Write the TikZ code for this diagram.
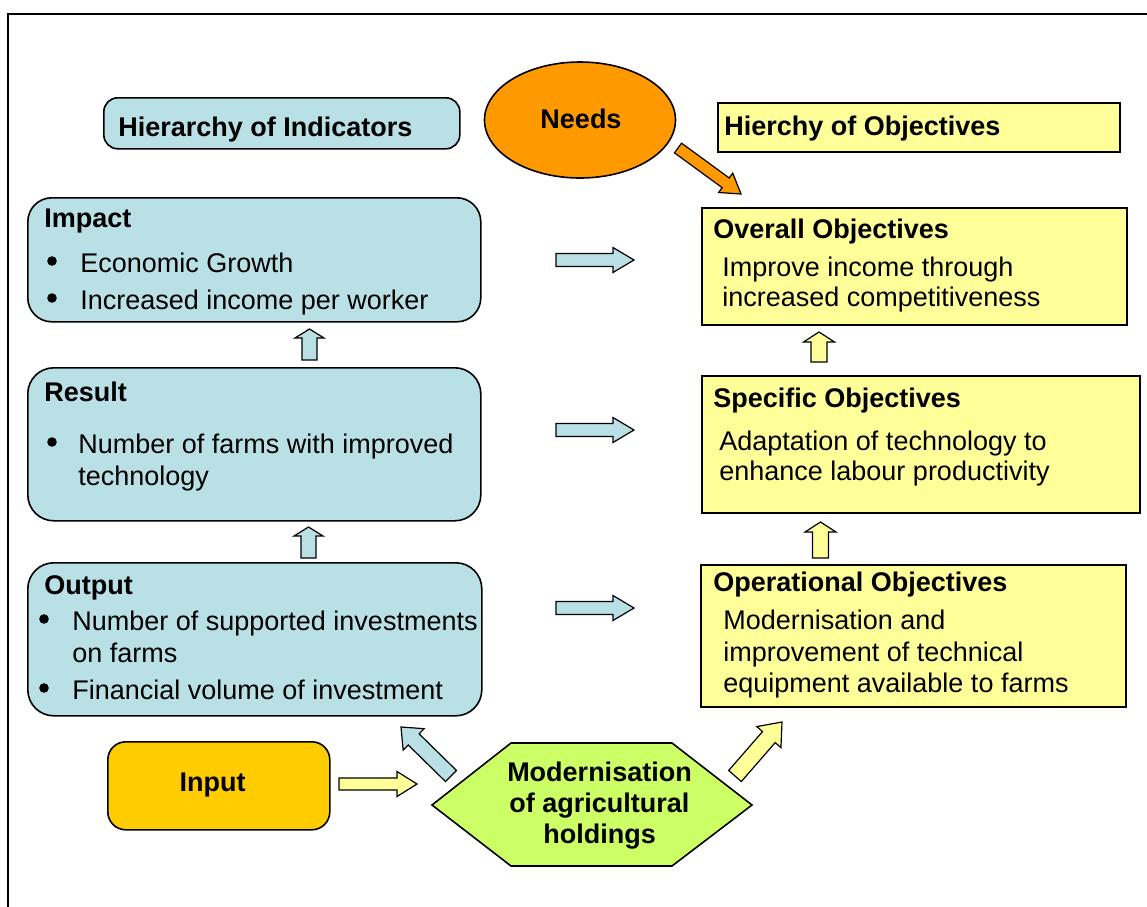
\documentclass[tikz,border=0pt]{standalone}
\usepackage{fontspec}
\setmainfont{Liberation Sans}
\usetikzlibrary{calc,shapes.geometric}
\definecolor{boxblue}{RGB}{185,224,228}
\definecolor{boxyellow}{RGB}{255,255,153}
\definecolor{needsorange}{RGB}{255,153,0}
\definecolor{inputgold}{RGB}{255,204,0}
\definecolor{hexgreen}{RGB}{204,255,102}
% #1 fill, #2 tail, #3 tip, #4 shaft half width, #5 head half width, #6 head length
\newcommand{\blockarr}[6]{%
  \coordinate (ba-h) at ($(#3)!#6!(#2)$);
  \filldraw[fill=#1, draw=black, line width=0.6pt, line join=miter]
    ($(#2)!#4!90:(#3)$) -- ($(ba-h)!#4!90:(#3)$) -- ($(ba-h)!#5!90:(#3)$) -- (#3)
    -- ($(ba-h)!#5!-90:(#3)$) -- ($(ba-h)!#4!-90:(#3)$) -- ($(#2)!#4!-90:(#3)$) -- cycle;
}
\begin{document}
\begin{tikzpicture}[x=0.5pt,y=-0.5pt,
  font=\fontsize{13.5}{15.5}\selectfont,
  txt/.style={inner sep=0pt, anchor=base west},
  btxt/.style={txt, font=\fontsize{13.5}{15.5}\selectfont\bfseries},
  ctxt/.style={inner sep=0pt, anchor=base, font=\fontsize{13.5}{15.5}\selectfont\bfseries},
  bul/.style={circle, fill=black, inner sep=0pt, minimum size=4.8pt},
  boxbase/.style={draw=black, line width=0.8pt, anchor=north west, inner sep=0pt},
  bluebox/.style={boxbase, fill=boxblue},
  yelbox/.style={boxbase, fill=boxyellow}]
\useasboundingbox (0,0) rectangle (1147,906);
\clip (0,0) rectangle (1147,906);
% frame
\draw[line width=1.1pt] (8,920) -- (8,14) -- (1160,14);

% headers
\node[bluebox, rounded corners=7pt, minimum width=178pt, minimum height=25.5pt] (hoi) at (103,97) {};
\node[btxt] (hoit) at (118,136) {Hierarchy of Indicators};
\node[draw=black, line width=0.8pt, fill=needsorange, ellipse, minimum width=95.5pt, minimum height=58pt, inner sep=0pt] (needs) at (580,120) {};
\node[ctxt] (needst) at (581,128) {Needs};
\node[yelbox, minimum width=201pt, minimum height=24.5pt] (hoo) at (717,102) {};
\node[btxt] (hoot) at (724,135) {Hierchy of Objectives};

% objectives (right)
\node[yelbox, minimum width=212.5pt, minimum height=58.5pt] (overall) at (701,207) {};
\node[btxt] (overallt) at (713,238) {Overall Objectives};
\node[txt] (overall1) at (722,276) {Improve income through};
\node[txt] (overall2) at (722,306) {increased competitiveness};

\node[yelbox, minimum width=219pt, minimum height=68.5pt] (specific) at (701,375) {};
\node[btxt] (specifict) at (713,407) {Specific Objectives};
\node[txt] (specific1) at (719,450) {Adaptation of technology to};
\node[txt] (specific2) at (719,480) {enhance labour productivity};

\node[yelbox, minimum width=212.5pt, minimum height=71pt] (oper) at (700,564) {};
\node[btxt] (opert) at (713,591) {Operational Objectives};
\node[txt] (oper1) at (723,629) {Modernisation and};
\node[txt] (oper2) at (723,661) {improvement of technical};
\node[txt] (oper3) at (723,692) {equipment available to farms};

% indicators (left)
\node[bluebox, rounded corners=12pt, minimum width=226.5pt, minimum height=62pt] (impact) at (27,197) {};
\node[btxt] (impactt) at (44,227) {Impact};
\node[bul] (impactb1) at (52,261) {};
\node[txt] (impact1) at (80,272) {Economic Growth};
\node[bul] (impactb2) at (52,298) {};
\node[txt] (impact2) at (80,309) {Increased income per worker};

\node[bluebox, rounded corners=13pt, minimum width=226.5pt, minimum height=76.5pt] (result) at (27,367) {};
\node[btxt] (resultt) at (44,401) {Result};
\node[bul] (resultb1) at (52,442) {};
\node[txt] (result1) at (78,453) {Number of farms with improved};
\node[txt] (result2) at (78,485) {technology};

\node[bluebox, rounded corners=13pt, minimum width=227pt, minimum height=76.5pt] (output) at (27,562) {};
\node[btxt] (outputt) at (44,594) {Output};
\node[bul] (outputb1) at (44,619) {};
\node[txt] (output1) at (72,630) {Number of supported investments};
\node[txt] (output2) at (72,662) {on farms};
\node[bul] (outputb2) at (44,688) {};
\node[txt] (output3) at (72,699) {Financial volume of investment};

% input and measure
\node[boxbase, fill=inputgold, rounded corners=9pt, minimum width=111pt, minimum height=44pt] (input) at (107,741) {};
\node[ctxt] (inputt) at (212.5,791) {Input};
\filldraw[fill=hexgreen, draw=black, line width=0.8pt, line join=miter]
  (432,805) -- (511,743) -- (672,743) -- (752,805) -- (672,866) -- (511,866) -- cycle;
\node[ctxt] (mod1) at (599.5,781) {Modernisation};
\node[ctxt] (mod2) at (599.5,812) {of agricultural};
\node[ctxt] (mod3) at (599.5,843) {holdings};

% block arrows
\coordinate (n-a) at (678,148); \coordinate (n-b) at (741,194);
\blockarr{needsorange}{n-a}{n-b}{3pt}{6pt}{9.5pt}

\foreach \yy/\nm in {260/ia, 430/ra, 608/oa}{
  \coordinate (\nm-a) at (556,\yy); \coordinate (\nm-b) at (634,\yy);
  \blockarr{boxblue}{\nm-a}{\nm-b}{3.25pt}{6.25pt}{10.5pt}
}
\coordinate (u1-a) at (309.5,360); \coordinate (u1-b) at (309.5,329);
\blockarr{boxblue}{u1-a}{u1-b}{3.75pt}{7.25pt}{4.5pt}
\coordinate (u2-a) at (308.5,558); \coordinate (u2-b) at (308.5,527);
\blockarr{boxblue}{u2-a}{u2-b}{3.75pt}{7.25pt}{4.5pt}

\coordinate (y1-a) at (819,362); \coordinate (y1-b) at (819,332);
\blockarr{boxyellow}{y1-a}{y1-b}{4pt}{7.75pt}{5pt}
\coordinate (y2-a) at (820.5,558); \coordinate (y2-b) at (820.5,522);
\blockarr{boxyellow}{y2-a}{y2-b}{4pt}{7.75pt}{5pt}

\coordinate (in-a) at (339,784); \coordinate (in-b) at (417,784);
\blockarr{boxyellow}{in-a}{in-b}{3pt}{6.25pt}{10pt}

\coordinate (d1-a) at (451,776); \coordinate (d1-b) at (401,727);
\blockarr{boxblue}{d1-a}{d1-b}{3.9pt}{7.5pt}{8.85pt}
\coordinate (d2-a) at (735,776); \coordinate (d2-b) at (782,722);
\blockarr{boxyellow}{d2-a}{d2-b}{4.2pt}{8pt}{10pt}
\end{tikzpicture}
\end{document}
